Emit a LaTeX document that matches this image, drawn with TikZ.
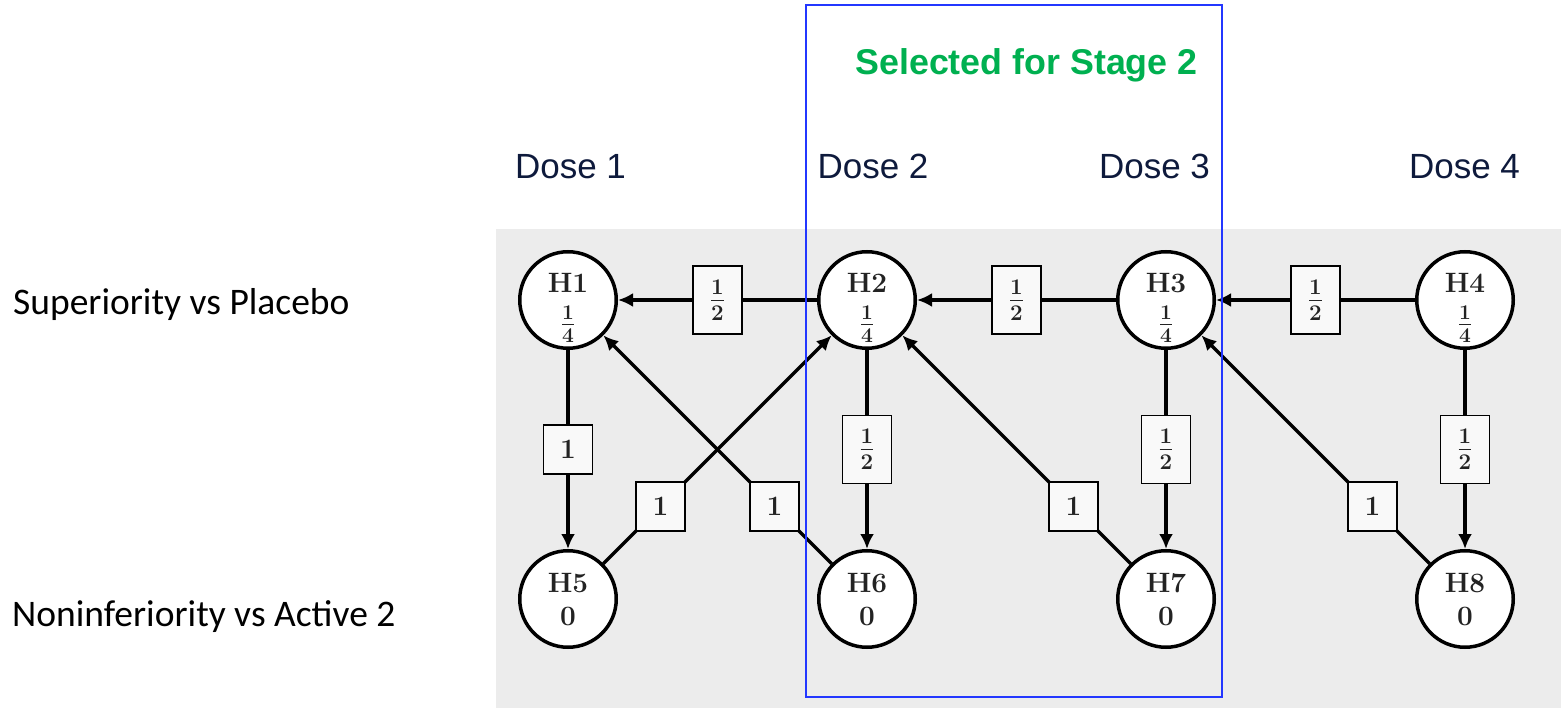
\RequirePackage{fix-cm}
\documentclass[tikz,border=0pt]{standalone}
\usepackage{fontspec}
\usetikzlibrary{arrows.meta}
\newfontfamily\calibrifont{Carlito}
\newfontfamily\arialfont{Liberation Sans}
\definecolor{bggray}{RGB}{236,236,236}
\definecolor{selblue}{RGB}{35,55,255}
\definecolor{selgreen}{RGB}{0,176,80}
\definecolor{dosenavy}{RGB}{14,26,60}
\definecolor{ink}{RGB}{35,35,35}
\definecolor{boxwhite}{RGB}{249,249,249}

% fractions: weights on the edges and initial weights in the circles
\newcommand\boxfrac[2]{{\fontsize{32}{36}\selectfont$\frac{#1}{#2}$}}
\newcommand\nodefrac[2]{{\fontsize{30}{33}\selectfont$\frac{#1}{#2}$}}

\tikzset{
  hyp/.style={circle, draw=black, line width=3.5pt, fill=white,
    minimum size=96.5pt, inner sep=0pt},
  hyptext/.style={align=center, inner sep=0pt, text=ink,
    font=\bfseries\boldmath\fontsize{28}{33}\selectfont},
  wt/.style={draw=black, line width=1.6pt, fill=boxwhite,
    minimum width=49pt, minimum height=49pt, inner xsep=4pt, inner ysep=14pt,
    text=ink, font=\bfseries\boldmath\fontsize{28}{32}\selectfont},
  flow/.style={line width=3.3pt, -{Latex[length=15pt,width=14pt]}},
  rowlabel/.style={anchor=base west, inner sep=0pt,
    font=\calibrifont\fontsize{37.5}{44}\selectfont, text=black},
  doselabel/.style={anchor=base, inner sep=0pt,
    font=\arialfont\fontsize{35}{42}\selectfont, text=dosenavy},
}

\begin{document}
\begin{tikzpicture}[x=1pt, y=-1pt]
  \useasboundingbox (0,0) rectangle (1561,708);

  % panel behind the graph
  \fill[bggray] (496,229) rectangle (1561,708);

  % row and column headings
  \node[rowlabel] (rowsup) at (13,315) {Superiority vs Placebo};
  \node[rowlabel] (rownon) at (12,626) {Noninferiority vs Active 2};
  \node[doselabel] (dose1) at (570.5,179) {Dose 1};
  \node[doselabel] (dose2) at (873,179) {Dose 2};
  \node[doselabel] (dose3) at (1154.5,179) {Dose 3};
  \node[doselabel] (dose4) at (1464.5,179) {Dose 4};
  \node[anchor=base, inner sep=0pt, text=selgreen,
        font=\arialfont\bfseries\fontsize{35.8}{42}\selectfont]
        (stage2) at (1026.5,75) {Selected for Stage 2};

  % hypotheses
  \node[hyp] (H1) at (568,300) {};
  \node[hyp] (H2) at (867,300) {};
  \node[hyp] (H3) at (1166,300) {};
  \node[hyp] (H4) at (1465,300) {};
  \node[hyp] (H5) at (568,599) {};
  \node[hyp] (H6) at (867,599) {};
  \node[hyp] (H7) at (1166,599) {};
  \node[hyp] (H8) at (1465,599) {};

  \node[hyptext] (H1t) at (568,308) {H1\\[6.5pt]\nodefrac{1}{4}};
  \node[hyptext] (H2t) at (867,308) {H2\\[6.5pt]\nodefrac{1}{4}};
  \node[hyptext] (H3t) at (1166,308) {H3\\[6.5pt]\nodefrac{1}{4}};
  \node[hyptext] (H4t) at (1465,308) {H4\\[6.5pt]\nodefrac{1}{4}};
  \node[hyptext] (H5t) at (568,600) {H5\\0};
  \node[hyptext] (H6t) at (867,600) {H6\\0};
  \node[hyptext] (H7t) at (1166,600) {H7\\0};
  \node[hyptext] (H8t) at (1465,600) {H8\\0};

  % transitions along the top row
  \draw[flow] (H2) -- node[wt] (w21) {\boxfrac{1}{2}} (H1);
  \draw[flow] (H3) -- node[wt] (w32) {\boxfrac{1}{2}} (H2);
  \draw[flow] (H4) -- node[wt] (w43) {\boxfrac{1}{2}} (H3);

  % transitions down to the noninferiority row
  \draw[flow] (H1) -- node[wt] (w15) {1} (H5);
  \draw[flow] (H2) -- node[wt] (w26) {\boxfrac{1}{2}} (H6);
  \draw[flow] (H3) -- node[wt] (w37) {\boxfrac{1}{2}} (H7);
  \draw[flow] (H4) -- node[wt] (w48) {\boxfrac{1}{2}} (H8);

  % diagonal transitions back up
  \draw[flow] (H5) -- node[wt, pos=0.25] (w52) {1} (H2);
  \draw[flow] (H6) -- node[wt, pos=0.25] (w61) {1} (H1);
  \draw[flow] (H7) -- node[wt, pos=0.25] (w72) {1} (H2);
  \draw[flow] (H8) -- node[wt, pos=0.25] (w83) {1} (H3);

  % frame around the doses carried into stage 2
  \draw[selblue, line width=2pt] (806,5) rectangle (1222,697);
\end{tikzpicture}
\end{document}
